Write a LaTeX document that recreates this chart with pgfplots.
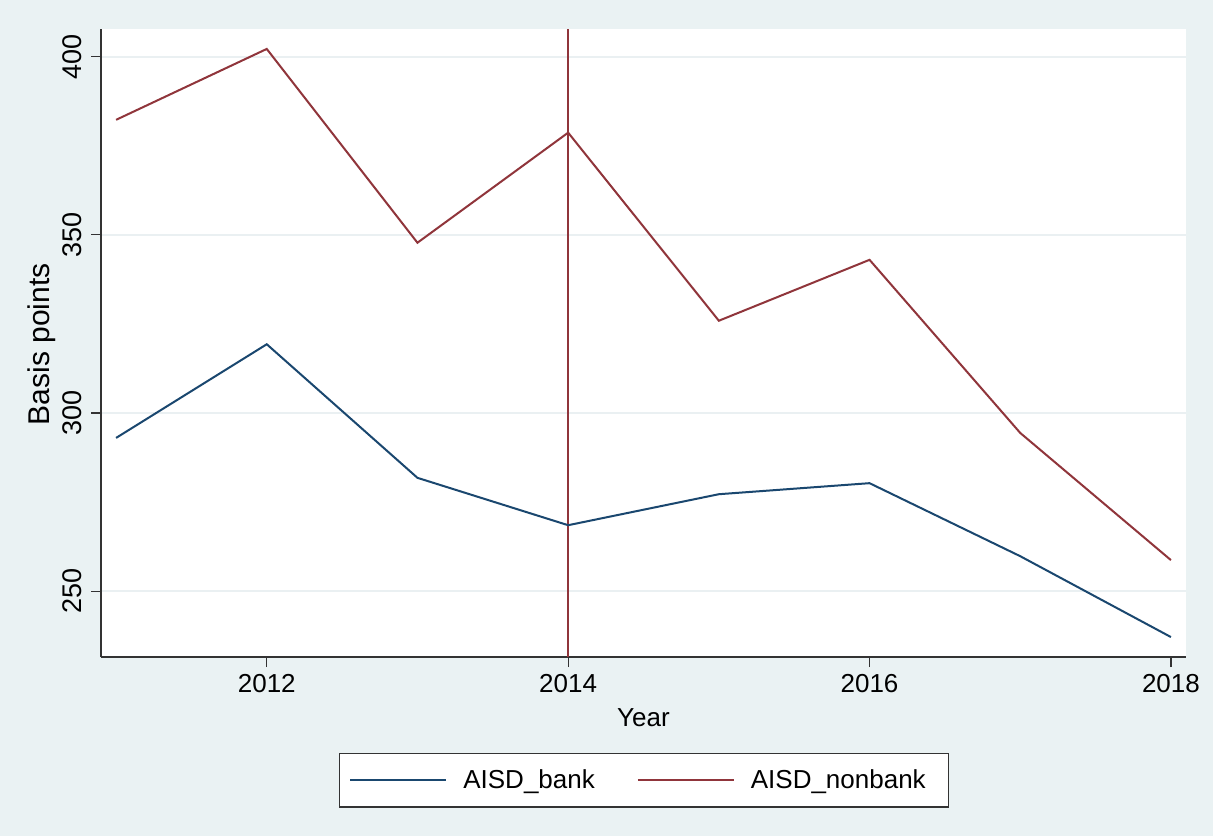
\documentclass[border=0pt]{standalone}
\usepackage{pgfplots}
\pgfplotsset{compat=1.18}
\usepackage{fontspec}
\setmainfont{Liberation Sans}
\definecolor{bgc}{HTML}{EAF2F3}
\definecolor{gridc}{HTML}{EAF0F2}
\definecolor{snavy}{HTML}{1A476F}
\definecolor{smaroon}{HTML}{90353B}
\begin{document}
\begin{tikzpicture}
\fill[bgc] (0pt,0pt) rectangle (606.5pt,418pt);
\begin{axis}[
  at={(50.5pt,89.5pt)}, anchor=south west,
  scale only axis, width=542.5pt, height=314pt,
  xmin=2010.9, xmax=2018.1, ymin=231.5, ymax=407.8,
  axis lines=left, axis line style={-, black!80, line width=0.6pt},
  axis background/.style={fill=white},
  xtick={2012,2014,2016,2018}, ytick={250,300,350,400},
  /pgf/number format/1000 sep={},
  /pgf/number format/assume math mode=true,
  tick align=outside, major tick length=5pt,
  tick style={black!80, line width=0.6pt},
  ymajorgrids, grid style={gridc, line width=0.8pt},
  ticklabel style={font=\fontsize{13pt}{15pt}\selectfont},
  yticklabel style={rotate=90, anchor=south, yshift=1.25pt, font=\fontsize{13.5pt}{15pt}\selectfont},
  every axis x label/.style={at={(axis description cs:0.5,-0.097)}, anchor=center, font=\fontsize{13pt}{15pt}\selectfont},
  every axis y label/.style={at={(axis description cs:-0.0544,0.498)}, rotate=90, anchor=center, font=\fontsize{15pt}{17pt}\selectfont},
  xlabel={Year}, ylabel={Basis points},
  legend columns=2,
  legend image code/.code={\draw[#1] (0pt,0pt) -- (48pt,0pt);},
  legend style={at={(0.5005,-0.196)}, anchor=center, draw=black!80, line width=0.6pt, fill=white,
    font=\fontsize{13pt}{15pt}\selectfont, inner xsep=5pt, inner ysep=6pt,
    nodes={inner xsep=0pt},
    /tikz/every odd column/.append style={column sep=8pt},
    /tikz/every even column/.append style={column sep=21pt}},
]
\addplot[smaroon, line width=1pt, forget plot] coordinates {(2014,231.5) (2014,407.8)};
\addplot[snavy, line width=1pt] coordinates {
(2011,293.0) (2012,319.3) (2013,281.8) (2014,268.5) (2015,277.2) (2016,280.3) (2017,259.8) (2018,237.1)};
\addlegendentry{AISD\_bank}
\addplot[smaroon, line width=1pt] coordinates {
(2011,382.3) (2012,402.2) (2013,347.8) (2014,378.7) (2015,325.9) (2016,343.0) (2017,294.4) (2018,258.7)};
\addlegendentry{AISD\_nonbank\hspace*{6.5pt}}
\end{axis}
\end{tikzpicture}
\end{document}
